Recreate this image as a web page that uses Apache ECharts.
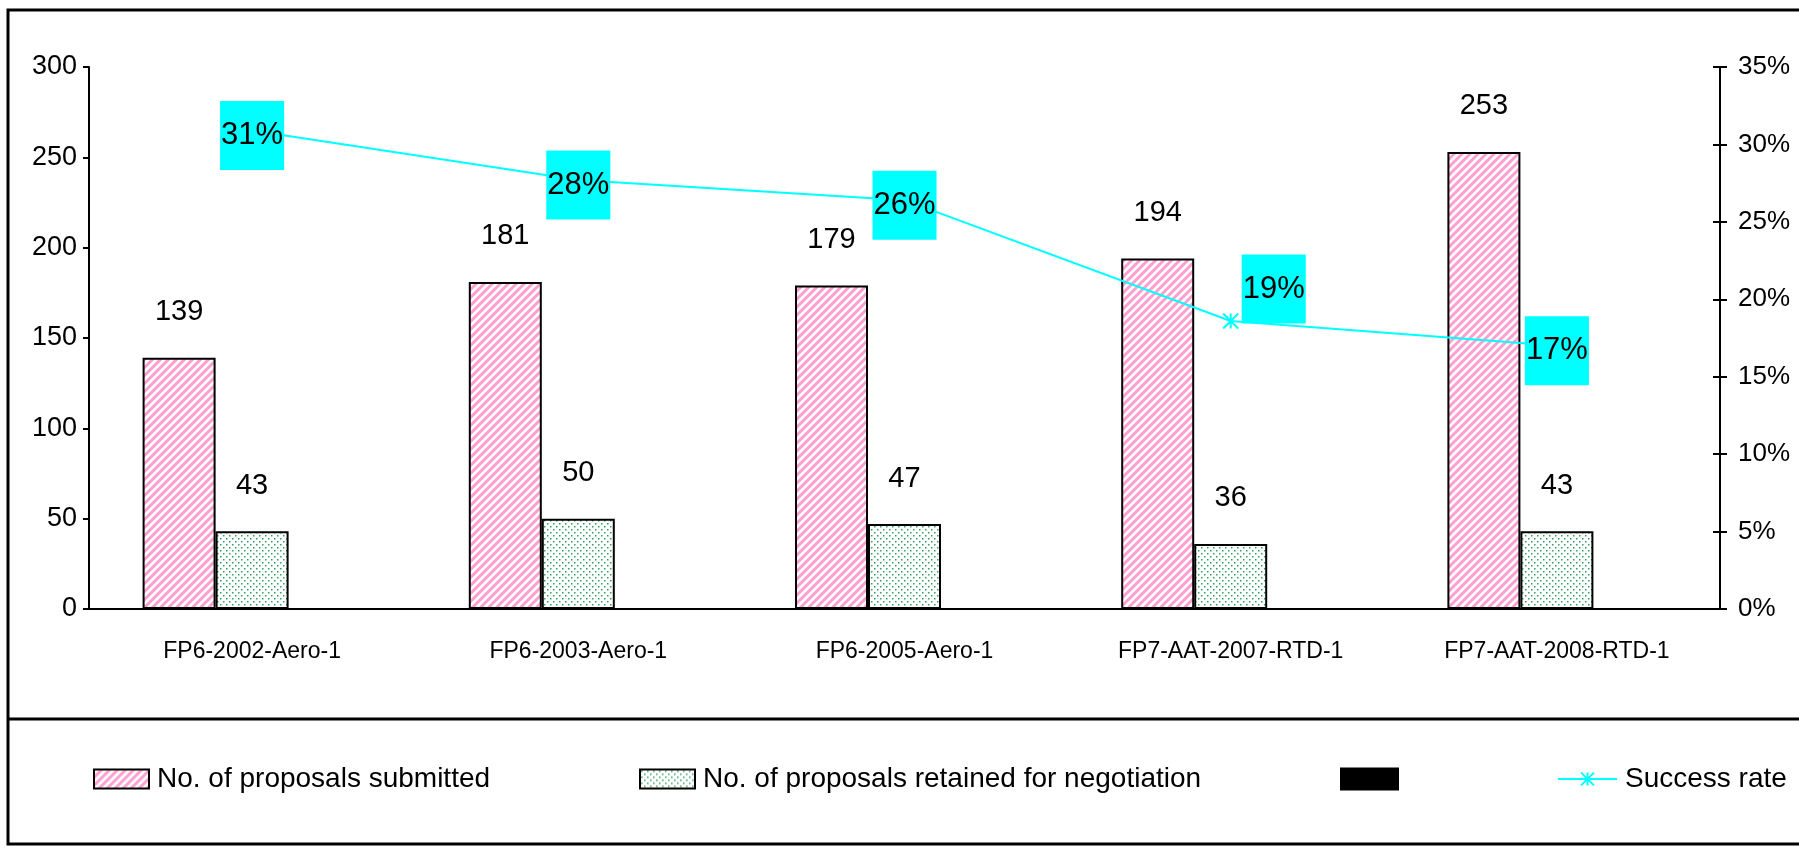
<!DOCTYPE html>
<html>
<head>
<meta charset="utf-8">
<script src="https://cdn.jsdelivr.net/npm/echarts@6/dist/echarts.min.js"></script>
<style>
  html, body { margin: 0; padding: 0; background: #fff; }
  #chart { width: 1799px; height: 853px; }
</style>
</head>
<body>
<div id="chart"></div>
<script>
const categories = ['FP6-2002-Aero-1', 'FP6-2003-Aero-1', 'FP6-2005-Aero-1', 'FP7-AAT-2007-RTD-1', 'FP7-AAT-2008-RTD-1']
const submitted = [139, 181, 179, 194, 253]
const retained = [43, 50, 47, 36, 43]
const blank = [null, null, null, null, null]
const successRate = [30.9, 27.7, 26.4, 18.6, 17.0]

const FONT = "'Liberation Sans', Arial, sans-serif"

// hatch fills like the old office chart
const makeStripes = () => {
  const c = document.createElement('canvas')
  c.width = 8
  c.height = 8
  const ctx = c.getContext('2d')
  ctx.fillStyle = '#fff'
  ctx.fillRect(0, 0, 8, 8)
  ctx.strokeStyle = '#ff9fcf'
  ctx.lineWidth = 3
  ctx.beginPath()
  ctx.moveTo(-2, 10); ctx.lineTo(10, -2)
  ctx.moveTo(-6, 6); ctx.lineTo(6, -6)
  ctx.moveTo(2, 14); ctx.lineTo(14, 2)
  ctx.stroke()
  return c
}

const makeDots = () => {
  const c = document.createElement('canvas')
  c.width = 6
  c.height = 6
  const ctx = c.getContext('2d')
  ctx.fillStyle = '#fff'
  ctx.fillRect(0, 0, 6, 6)
  ctx.fillStyle = '#2f9e63'
  ctx.fillRect(1, 1, 1.5, 1.5)
  ctx.fillRect(4, 4, 1.5, 1.5)
  return c
}

const pinkFill = { image: makeStripes(), repeat: 'repeat' }
const greenFill = { image: makeDots(), repeat: 'repeat' }

const chart = echarts.init(document.getElementById('chart'))

const rateData = successRate.map((v, i) => {
  if (i === 3) return { value: v, label: { offset: [43, -32] } }
  return v
})

const legendBase = {
  orient: 'horizontal',
  top: 760,
  icon: 'rect',
  itemHeight: 19,
  itemWidth: 55,
  textStyle: { fontFamily: FONT, fontSize: 28, color: '#000', padding: [0, 0, 0, 3] },
  selectedMode: false
}

const option = {
  backgroundColor: '#fff',
  animation: false,
  textStyle: { fontFamily: FONT },
  grid: { left: 89, right: 79, top: 67, bottom: 244 },
  legend: [
    { ...legendBase, left: 88, data: ['No. of proposals submitted'] },
    { ...legendBase, left: 634, data: ['No. of proposals retained for negotiation'] },
    { ...legendBase, left: 1335, itemWidth: 57, itemHeight: 21, data: [' '] },
    { ...legendBase, left: 1552, icon: null, itemWidth: 59, itemHeight: 16, data: ['Success rate'] }
  ],
  xAxis: {
    type: 'category',
    data: categories,
    axisLine: { lineStyle: { color: '#000', width: 2 } },
    axisTick: { length: 9, lineStyle: { color: '#000', width: 2 } },
    axisLabel: { color: '#000', fontFamily: FONT, fontSize: 23, margin: 31, interval: 0 },
    splitLine: { show: false }
  },
  yAxis: [
    {
      type: 'value',
      min: 0,
      max: 300,
      interval: 50,
      axisLine: { show: true, lineStyle: { color: '#000', width: 2 } },
      axisTick: { show: true, length: 6, lineStyle: { color: '#000', width: 2 } },
      axisLabel: { color: '#000', fontFamily: FONT, fontSize: 27, margin: 12 },
      splitLine: { show: false }
    },
    {
      type: 'value',
      position: 'right',
      min: 0,
      max: 35,
      interval: 5,
      axisLine: { show: true, lineStyle: { color: '#000', width: 2 } },
      axisTick: { show: true, length: 7, lineStyle: { color: '#000', width: 2 } },
      axisLabel: { color: '#000', fontFamily: FONT, fontSize: 26, margin: 18, formatter: '{value}%' },
      splitLine: { show: false }
    },
    {
      // inner half of the crossing ticks on the right axis
      type: 'value',
      position: 'right',
      min: 0,
      max: 35,
      interval: 5,
      axisLine: { show: false },
      axisTick: { show: true, inside: true, length: 7, lineStyle: { color: '#000', width: 2 } },
      axisLabel: { show: false },
      splitLine: { show: false }
    }
  ],
  series: [
    {
      name: 'No. of proposals submitted',
      type: 'bar',
      data: submitted,
      barWidth: 73,
      barGap: '0%',
      itemStyle: { color: pinkFill, borderColor: '#000', borderWidth: 2 },
      label: { show: true, position: 'top', distance: 31, color: '#000', fontFamily: FONT, fontSize: 29 }
    },
    {
      name: 'No. of proposals retained for negotiation',
      type: 'bar',
      data: retained,
      barWidth: 73,
      barGap: '0%',
      itemStyle: { color: greenFill, borderColor: '#000', borderWidth: 2 },
      label: { show: true, position: 'top', distance: 31, color: '#000', fontFamily: FONT, fontSize: 29 }
    },
    {
      name: ' ',
      type: 'bar',
      data: blank,
      barWidth: 73,
      barGap: '0%',
      itemStyle: { color: '#000', borderColor: '#000', borderWidth: 1 }
    },
    {
      name: 'Success rate',
      type: 'line',
      yAxisIndex: 1,
      data: rateData,
      symbol: 'path://M0,0L10,10M10,0L0,10M5,0L5,10',
      symbolSize: 15,
      itemStyle: { color: '#00ffff', borderColor: '#00ffff', borderWidth: 2 },
      lineStyle: { color: '#00ffff', width: 2 },
      z: 5,
      label: {
        show: true,
        position: 'inside',
        offset: [0, 5],
        formatter: (p) => Math.round(p.value) + '%',
        color: '#000',
        fontFamily: FONT,
        fontSize: 31,
        lineHeight: 36,
        backgroundColor: '#00ffff',
        padding: [13, 1, 20, 1]
      }
    }
  ],
  graphic: [
    {
      type: 'rect',
      shape: { x: 8, y: 10, width: 1800, height: 834 },
      style: { fill: 'none', stroke: '#000', lineWidth: 3 },
      silent: true
    },
    {
      type: 'line',
      shape: { x1: 8, y1: 719, x2: 1799, y2: 719 },
      style: { stroke: '#000', lineWidth: 3 },
      silent: true
    }
  ]
}

chart.setOption(option)
</script>
</body>
</html>
